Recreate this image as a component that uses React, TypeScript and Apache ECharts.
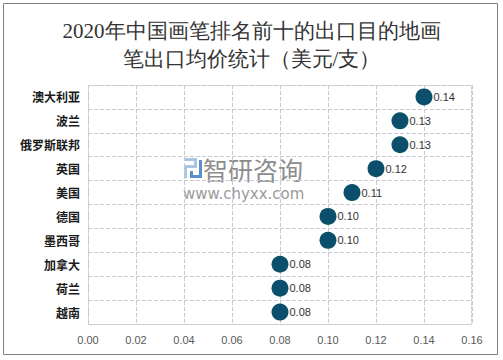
import React, { useEffect, useRef } from "react";
import * as echarts from "echarts";

const categories = ["澳大利亚", "波兰", "俄罗斯联邦", "英国", "美国", "德国", "墨西哥", "加拿大", "荷兰", "越南"];
const values = [0.14, 0.13, 0.13, 0.12, 0.11, 0.1, 0.1, 0.08, 0.08, 0.08];
const titleText = "2020年中国画笔排名前十的出口目的地画\n笔出口均价统计（美元/支）";

export default function App() {
  const ref = useRef<HTMLDivElement>(null);
  useEffect(() => {
    const chart = echarts.init(ref.current!, null, { renderer: "svg" });
    chart.setOption({
      animation: false,
      backgroundColor: "#fff",
      title: {
        text: titleText,
        left: "center",
        top: 12,
        textStyle: {
          fontFamily: "serif",
          fontSize: 21,
          fontWeight: "normal",
          color: "#333",
          lineHeight: 28,
        },
      },
      grid: { left: 88, right: 31, top: 85, bottom: 36, show: false },
      xAxis: {
        type: "value",
        min: 0,
        max: 0.16,
        interval: 0.02,
        axisLine: { show: false },
        axisTick: { show: false },
        axisLabel: {
          formatter: (v: number) => v.toFixed(2),
          color: "#595959",
          fontSize: 11,
          margin: 10,
        },
        splitLine: { show: true, lineStyle: { color: "#c9c9d2", type: "dashed", width: 1 } },
      },
      yAxis: {
        type: "category",
        data: categories,
        inverse: true,
        axisLine: { show: false },
        axisTick: { show: false },
        axisLabel: {
          color: "#1a1a1a",
          fontSize: 12,
          fontWeight: "bold",
          fontFamily: "Noto Sans CJK SC",
          margin: 8,
        },
        splitLine: { show: true, lineStyle: { color: "#c9c9d2", type: "dashed", width: 1 } },
      },
      graphic: [
        {
          type: "rect",
          shape: { x: 3.5, y: 3.5, width: 494, height: 351 },
          style: { fill: "none", stroke: "#7f7f7f", lineWidth: 1 },
          silent: true,
        },
        {
          type: "rect",
          shape: { x: 88.5, y: 85.5, width: 383, height: 239 },
          style: { fill: "none", stroke: "#c9c9d2", lineWidth: 1, lineDash: [3, 1] },
          silent: true,
        },
        {
          type: "group",
          silent: true,
          z: 0,
          children: [
            { type: "rect", shape: { x: 184, y: 158, width: 13, height: 3 }, style: { fill: "#a9c4e4" } },
            { type: "rect", shape: { x: 194, y: 158, width: 3, height: 10 }, style: { fill: "#a9c4e4" } },
            { type: "rect", shape: { x: 184, y: 165, width: 10, height: 3 }, style: { fill: "#a9c4e4" } },
            { type: "rect", shape: { x: 184, y: 165, width: 3, height: 13 }, style: { fill: "#a9c4e4" } },
            { type: "rect", shape: { x: 190, y: 171, width: 3, height: 7 }, style: { fill: "#5b8fd0" } },
            { type: "rect", shape: { x: 190, y: 175, width: 10, height: 3 }, style: { fill: "#5b8fd0" } },
            { type: "rect", shape: { x: 199, y: 160, width: 3, height: 18 }, style: { fill: "#5b8fd0" } },
            {
              type: "text",
              style: { x: 203, y: 169, text: "智研咨询", fontSize: 25, fill: "#8c8c8c", fontFamily: "Noto Sans CJK SC", verticalAlign: "middle" },
            },
            {
              type: "text",
              style: { x: 183, y: 194, text: "www.chyxx.com", fontSize: 15, fill: "#9a9a9a", fontFamily: "DejaVu Sans", verticalAlign: "middle" },
            },
          ],
        },
      ],
      series: [
        {
          type: "scatter",
          data: values,
          symbolSize: 17,
          itemStyle: { color: "#0b4f6c", opacity: 1 },
          z: 5,
          label: {
            show: true,
            position: "right",
            distance: 1,
            formatter: (p: any) => Number(p.value).toFixed(2),
            color: "#333",
            fontSize: 11,
          },
        },
      ],
    });
    return () => chart.dispose();
  }, []);
  return <div ref={ref} style={{ width: 503, height: 360, position: "absolute", left: 0, top: 0 }} />;
}
